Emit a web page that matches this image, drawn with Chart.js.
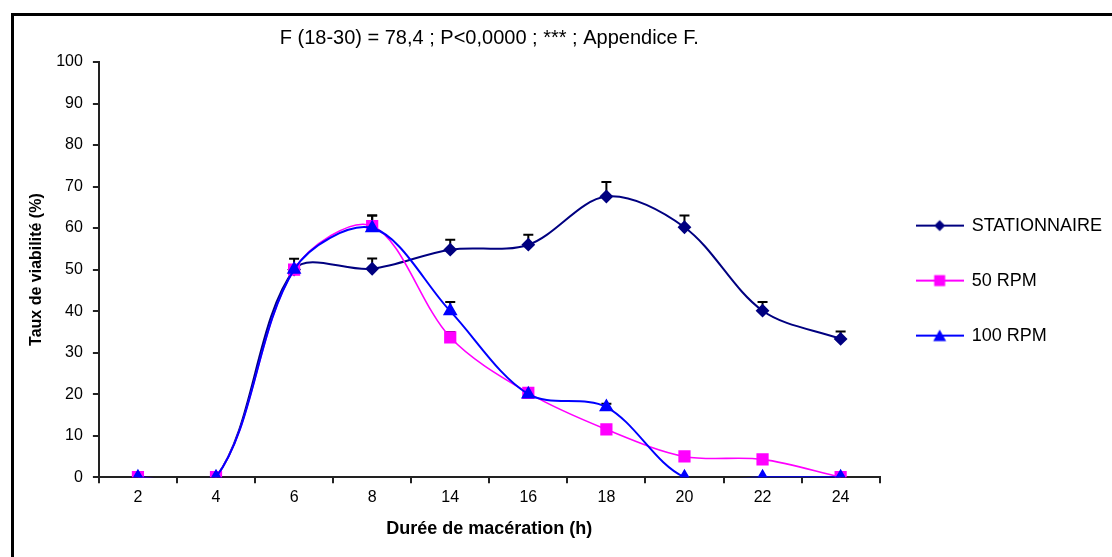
<!DOCTYPE html>
<html>
<head>
<meta charset="utf-8">
<script src="https://cdn.jsdelivr.net/npm/chart.js@4/dist/chart.umd.min.js"></script>
<style>
  html, body { margin: 0; padding: 0; background: #fff; }
  #chart { display: block; }
</style>
</head>
<body>
<canvas id="chart" width="1112" height="557"></canvas>
<script>
// durée de macération (h)
const hours = ['2', '4', '6', '8', '14', '16', '18', '20', '22', '24'];

const stationnaire = [0, 0, 50, 50.2, 54.8, 56, 67.6, 60.2, 40.1, 33.3];
const rpm50 = [0, 0, 50, 60.5, 33.7, 20.3, 11.5, 5, 4.3, 0];
const rpm100 = [0, 0, 50, 60, 40, 20, 16.9, 0, 0, 0];

// écarts (barres d'erreur vers le haut)
const errStationnaire = [0, 0, 2.6, 2.5, 2.4, 2.4, 3.5, 2.8, 2.1, 1.8];
const err50 = [0, 0, 0, 2.5, 1.3, 0.5, 0.3, 0.3, 0.3, 0];
const err100 = [0, 0, 0, 3.0, 2.2, 0.8, 0.8, 0, 0, 0];

const FONT = "'Liberation Sans', Arial, sans-serif";

// petit dessin ligne + marqueur pour la légende
function legendIcon(color, shape) {
  const c = document.createElement('canvas');
  c.width = 48; c.height = 14;
  const g = c.getContext('2d');
  g.strokeStyle = color; g.fillStyle = color; g.lineWidth = 2;
  g.beginPath(); g.moveTo(0, 7); g.lineTo(48, 7); g.stroke();
  g.beginPath();
  if (shape === 'diamond') {
    g.moveTo(24, 1.5); g.lineTo(29.5, 7); g.lineTo(24, 12.5); g.lineTo(18.5, 7);
  } else if (shape === 'square') {
    g.rect(18.5, 1.5, 11, 11);
  } else {
    g.moveTo(24, 1); g.lineTo(30.5, 12.5); g.lineTo(17.5, 12.5);
  }
  g.closePath(); g.fill();
  return c;
}

const icons = [
  legendIcon('#000080', 'diamond'),
  legendIcon('#ff00ff', 'square'),
  legendIcon('#0000ff', 'triangle')
];

const errorBars = {
  id: 'errorBars',
  beforeDatasetsDraw(chart) {
    const ctx = chart.ctx;
    const y = chart.scales.y;
    ctx.save();
    ctx.strokeStyle = '#000';
    ctx.lineWidth = 2;
    chart.data.datasets.forEach((ds, di) => {
      const meta = chart.getDatasetMeta(di);
      ds.errors.forEach((e, i) => {
        if (!e) return;
        const pt = meta.data[i];
        const top = y.getPixelForValue(ds.data[i] + e);
        ctx.beginPath();
        ctx.moveTo(pt.x, pt.y);
        ctx.lineTo(pt.x, top);
        ctx.moveTo(pt.x - 5, top);
        ctx.lineTo(pt.x + 5, top);
        ctx.stroke();
      });
    });
    ctx.restore();
  }
};

const frame = {
  id: 'frame',
  beforeDraw(chart) {
    const ctx = chart.ctx;
    ctx.save();
    ctx.fillStyle = '#fff';
    ctx.fillRect(0, 0, chart.width, chart.height);
    ctx.fillStyle = '#000';
    ctx.fillRect(11, 13, chart.width - 11, 3);
    ctx.fillRect(11, 13, 3, chart.height - 13);
    ctx.restore();
  }
};

new Chart(document.getElementById('chart'), {
  type: 'line',
  data: {
    labels: hours,
    datasets: [
      {
        label: 'STATIONNAIRE',
        data: stationnaire,
        errors: errStationnaire,
        borderColor: '#000080',
        backgroundColor: '#000080',
        borderWidth: 2,
        pointStyle: 'rectRot',
        pointRadius: 5.5,
        order: 2
      },
      {
        label: '50 RPM',
        data: rpm50,
        errors: err50,
        borderColor: '#ff00ff',
        backgroundColor: '#ff00ff',
        borderWidth: 1.6,
        pointStyle: 'rect',
        pointRadius: 7.5,
        order: 1
      },
      {
        label: '100 RPM',
        data: rpm100,
        errors: err100,
        borderColor: '#0000ff',
        backgroundColor: '#0000ff',
        borderWidth: 2,
        pointStyle: 'triangle',
        pointRadius: 6.5,
        order: 0
      }
    ]
  },
  options: {
    responsive: false,
    animation: false,
    devicePixelRatio: 1,
    elements: {
      line: { tension: 0.33, capBezierPoints: false, fill: false },
      point: { borderWidth: 1 }
    },
    layout: { padding: { left: 12, top: 0, right: 0, bottom: 15 } },
    scales: {
      x: {
        offset: true,
        grid: { offset: true, drawOnChartArea: false, drawTicks: true, tickLength: 6, color: '#222', lineWidth: 2 },
        border: { display: true, color: '#222', width: 2 },
        ticks: { color: '#000', padding: 5, font: { family: FONT, size: 16 } },
        title: {
          display: true,
          text: 'Durée de macération (h)',
          color: '#000',
          font: { family: FONT, size: 18, weight: 'bold' },
          padding: { top: 6, bottom: 2 }
        }
      },
      y: {
        min: 0,
        max: 100,
        grid: { drawOnChartArea: false, drawTicks: true, tickLength: 6, color: '#222', lineWidth: 2 },
        border: { display: true, color: '#222', width: 2 },
        ticks: { stepSize: 10, color: '#000', padding: 10, font: { family: FONT, size: 16 } },
        title: {
          display: true,
          text: 'Taux de viabilité (%)',
          color: '#000',
          font: { family: FONT, size: 16, weight: 'bold' },
          padding: { top: 15, bottom: 0 }
        }
      }
    },
    plugins: {
      title: {
        display: true,
        fullSize: false,
        text: 'F (18-30) = 78,4 ; P<0,0000 ; *** ; Appendice F.',
        color: '#000',
        font: { family: FONT, size: 20, weight: 'normal' },
        padding: { top: 26, bottom: 12 }
      },
      legend: {
        position: 'right',
        fullSize: false,
        title: { display: true, text: ' ', font: { size: 10 }, padding: 5 },
        labels: {
          usePointStyle: true,
          pointStyleWidth: 46,
          padding: 37,
          color: '#000',
          font: { family: FONT, size: 18 },
          sort: (a, b) => a.datasetIndex - b.datasetIndex,
          generateLabels(chart) {
            return chart.data.datasets.map((ds, i) => ({
              text: ds.label,
              pointStyle: icons[i],
              fillStyle: ds.borderColor,
              strokeStyle: ds.borderColor,
              lineWidth: 0,
              fontColor: '#000',
              hidden: false,
              datasetIndex: i
            }));
          }
        }
      },
      tooltip: { enabled: false }
    }
  },
  plugins: [frame, errorBars]
});
</script>
</body>
</html>
